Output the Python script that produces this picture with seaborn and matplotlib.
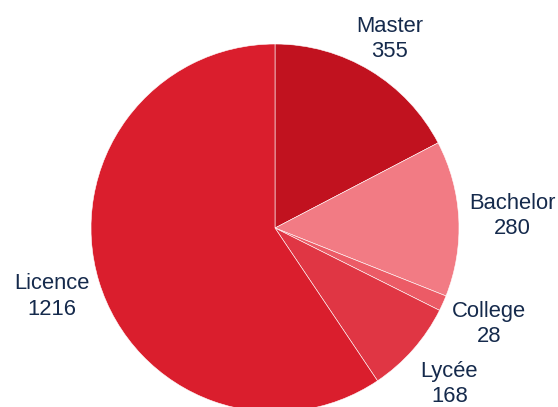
import numpy as np
import seaborn as sns
from matplotlib import pyplot as plt

labels = ['Master', 'Bachelor', 'College', 'Lycée', 'Licence']
counts = [355, 280, 28, 168, 1216]
colors = ['#c1121f', '#f27b84', '#ec5b66', '#e03644', '#da1e2d']

sns.set_style('white')
plt.rcParams['font.family'] = ['Liberation Sans', 'DejaVu Sans']

fig = plt.figure(figsize=(5.58, 4.07), dpi=100)
ax = fig.add_axes([0, 0, 1, 1])

wedges, _ = ax.pie(counts, colors=colors, startangle=90, counterclock=False,
                   wedgeprops=dict(edgecolor='white', linewidth=0.4))

# labels: side ones hug the rim horizontally, the top one is centred
for w, lab, c in zip(wedges, labels, counts):
    ang = np.deg2rad((w.theta1 + w.theta2) / 2)
    ux, uy = np.cos(ang), np.sin(ang)
    if abs(ux) >= 0.6:
        x, y = 1.055 * ux, 1.28 * uy
        ha = 'left' if ux > 0 else 'right'
    else:
        x, y = 1.2 * ux, 1.2 * uy
        ha = 'center'
    ax.text(x, y, f'{lab}\n{c}', ha=ha, va='center', multialignment='center',
            color='#152a4c', fontsize=15.8, linespacing=1.27)

# pie centre at (275, 228) px, radius 184 px
r = 184
ax.set_xlim(-275 / r, (558 - 275) / r)
ax.set_ylim(-(407 - 228) / r, 228 / r)
ax.set_aspect('auto')

fig.savefig('out.png', dpi=100)
